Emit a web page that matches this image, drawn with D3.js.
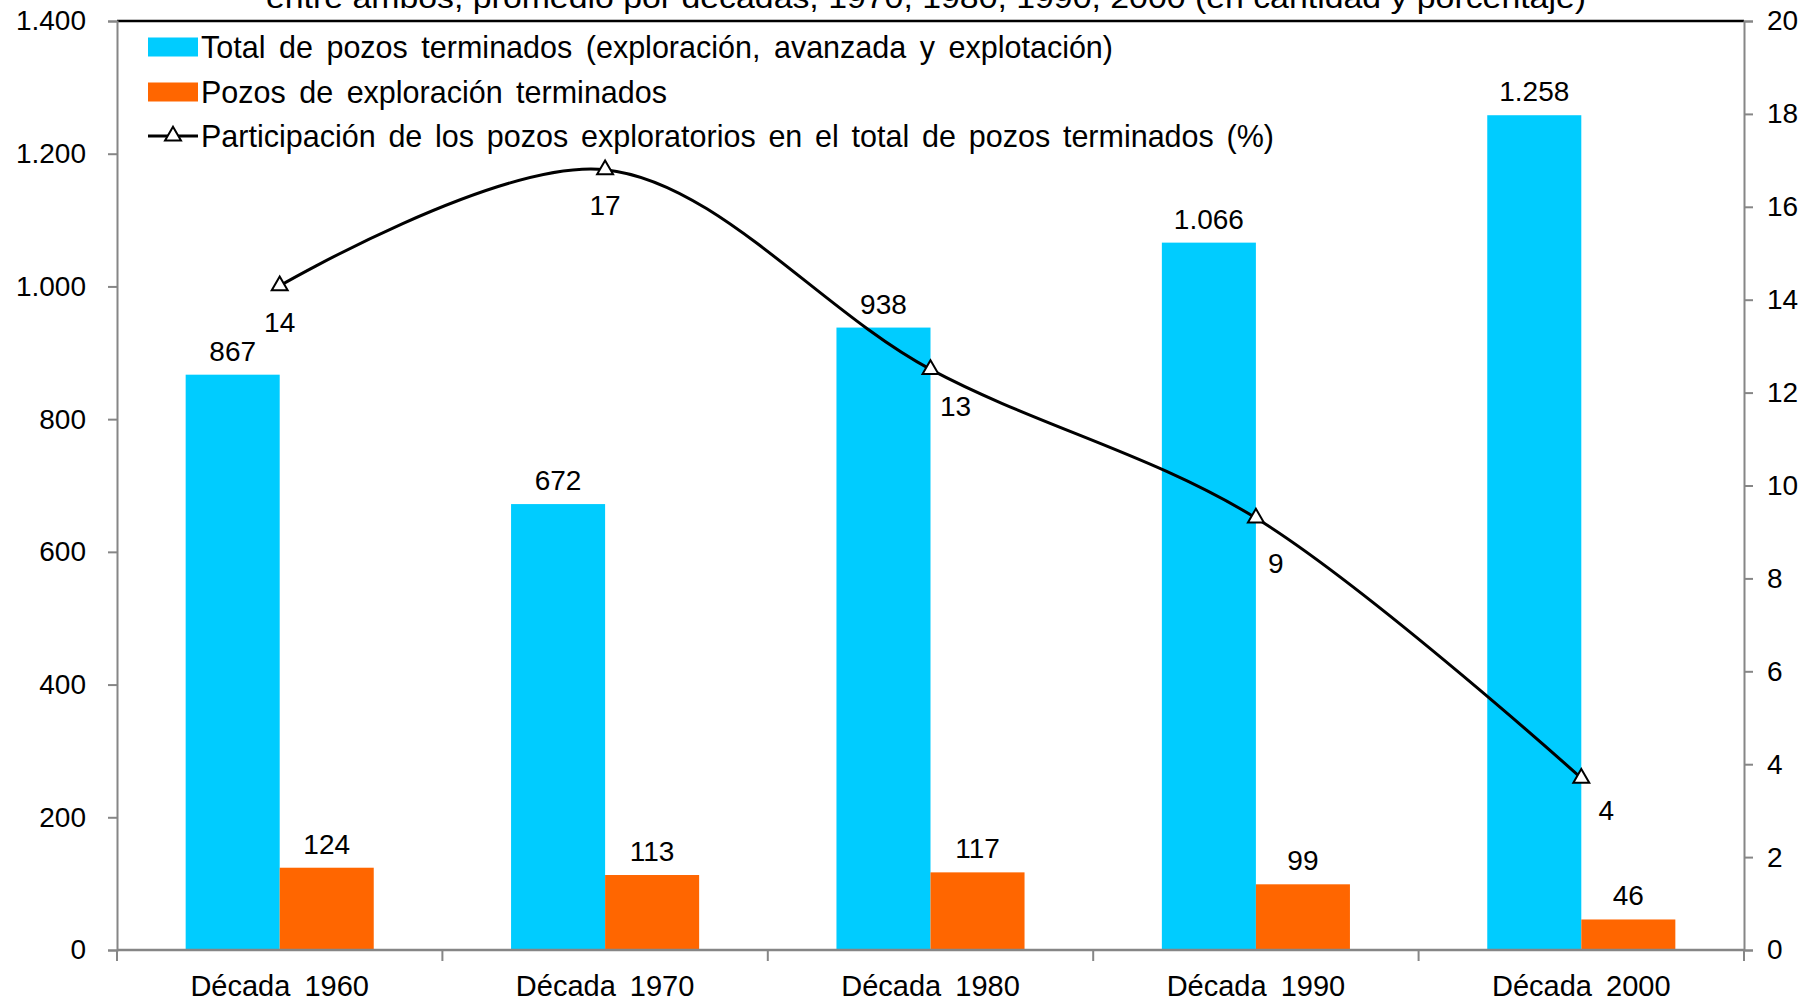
<!DOCTYPE html>
<html><head><meta charset="utf-8">
<script src="https://cdn.jsdelivr.net/npm/d3@7"></script>
<style>
html,body{margin:0;padding:0;background:#fff;}
svg{display:block;font-family:"Liberation Sans",Arial,sans-serif;}
</style></head>
<body>
<svg id="chart" width="1815" height="1003"></svg>
<script>
const titleText = "entre ambos, promedio por décadas, 1970, 1980, 1990, 2000 (en cantidad y porcentaje)";
const categories = ["Década 1960","Década 1970","Década 1980","Década 1990","Década 2000"];
const totalWells = [867, 672, 938, 1066, 1258];
const explorationWells = [124, 113, 117, 99, 46];
const sharePct = [14.3, 16.8, 12.5, 9.3, 3.7];
const shareLabels = ["14","17","13","9","4"];
const leftTicks = [0,200,400,600,800,1000,1200,1400];
const rightTicks = [0,2,4,6,8,10,12,14,16,18,20];
const legendLabels = [
  "Total de pozos terminados (exploración, avanzada y explotación)",
  "Pozos de exploración terminados",
  "Participación de los pozos exploratorios en el total de pozos terminados (%)"
];

const BLUE = "#00CCFF", ORANGE = "#FF6600", AXIS = "#868686";
const FS = 28;
const svg = d3.select("#chart");
const L = 117, R = 1744, T = 21, B = 950;

const locale = d3.formatLocale({decimal: ",", thousands: ".", grouping: [3], currency: ["$",""]});
const fmt = locale.format(",d");

const x = d3.scaleBand().domain(categories).range([L, R]).paddingInner(0).paddingOuter(0);
const yL = d3.scaleLinear().domain([0, 1400]).range([B, T]);
const yR = d3.scaleLinear().domain([0, 20]).range([B, T]);
const bw = x.bandwidth() * 0.289;
const cx = c => x(c) + x.bandwidth() / 2;

// title (partly cut off at top, as in the source)
svg.append("text").attr("x", 926).attr("y", 8).attr("text-anchor", "middle")
  .attr("font-size", 29).attr("textLength", 1320).attr("lengthAdjust", "spacingAndGlyphs")
  .text(titleText);

// top border line
svg.append("line").attr("x1", L).attr("x2", R).attr("y1", T).attr("y2", T)
  .attr("stroke", "#000").attr("stroke-width", 2.5);

// bars
const g = svg.append("g");
categories.forEach((c, i) => {
  g.append("rect").attr("x", cx(c) - bw).attr("y", yL(totalWells[i]))
    .attr("width", bw).attr("height", B - yL(totalWells[i])).attr("fill", BLUE);
  g.append("rect").attr("x", cx(c)).attr("y", yL(explorationWells[i]))
    .attr("width", bw).attr("height", B - yL(explorationWells[i])).attr("fill", ORANGE);
  g.append("text").attr("x", cx(c) - bw / 2).attr("y", yL(totalWells[i]) - 14)
    .attr("text-anchor", "middle").attr("font-size", FS).text(fmt(totalWells[i]));
  g.append("text").attr("x", cx(c) + bw / 2).attr("y", yL(explorationWells[i]) - 14)
    .attr("text-anchor", "middle").attr("font-size", FS).text(fmt(explorationWells[i]));
});

// axes
const axL = d3.axisLeft(yL).tickValues(leftTicks).tickSize(9).tickPadding(22).tickFormat(fmt);
const gl = svg.append("g").attr("transform", `translate(${L},0)`).call(axL);
const axR = d3.axisRight(yR).tickValues(rightTicks).tickSize(9).tickPadding(14).tickFormat(d3.format("d"));
const gr = svg.append("g").attr("transform", `translate(${R},0)`).call(axR);
[gl, gr].forEach(a => {
  a.select(".domain").attr("stroke", AXIS).attr("stroke-width", 2);
  a.selectAll(".tick line").attr("stroke", AXIS).attr("stroke-width", 2);
  a.selectAll("text").attr("font-size", FS).attr("fill", "#000")
    .attr("font-family", "Liberation Sans, Arial, sans-serif");
});

// x axis
svg.append("line").attr("x1", L).attr("x2", R).attr("y1", B).attr("y2", B)
  .attr("stroke", AXIS).attr("stroke-width", 2.5);
const bounds = categories.map(c => x(c)).concat([R]);
bounds.forEach(b => svg.append("line").attr("x1", b).attr("x2", b).attr("y1", B).attr("y2", B + 11)
  .attr("stroke", AXIS).attr("stroke-width", 2));
categories.forEach(c => svg.append("text").attr("x", cx(c)).attr("y", 996)
  .attr("text-anchor", "middle").attr("font-size", 29).attr("word-spacing", 6).text(c));

// line
const pts = categories.map((c, i) => [cx(c), yR(sharePct[i])]);
svg.append("path").attr("d", d3.line().curve(d3.curveCatmullRom.alpha(0.5))(pts))
  .attr("fill", "none").attr("stroke", "#000").attr("stroke-width", 3);
const tri = d3.symbol().type(d3.symbolTriangle).size(110);
pts.forEach(p => svg.append("path").attr("d", tri()).attr("transform", `translate(${p[0]},${p[1]})`)
  .attr("fill", "#fff").attr("stroke", "#000").attr("stroke-width", 2));
const labelOffsets = [[0, 36], [0, 36], [25, 37], [20, 45], [25, 32]];
pts.forEach((p, i) => svg.append("text").attr("x", p[0] + labelOffsets[i][0]).attr("y", p[1] + labelOffsets[i][1])
  .attr("text-anchor", "middle").attr("dy", "0.35em").attr("font-size", FS).text(shareLabels[i]));

// legend
const legY = [47, 92, 136];
const legTargets = [912, 466, 1073];
legendLabels.forEach((lab, i) => {
  const yy = legY[i];
  if (i < 2) {
    svg.append("rect").attr("x", 148).attr("y", yy - 9.5).attr("width", 50).attr("height", 19)
      .attr("fill", i === 0 ? BLUE : ORANGE);
  } else {
    svg.append("line").attr("x1", 148).attr("x2", 198).attr("y1", yy).attr("y2", yy)
      .attr("stroke", "#000").attr("stroke-width", 3);
    svg.append("path").attr("d", tri()).attr("transform", `translate(173,${yy})`)
      .attr("fill", "#fff").attr("stroke", "#000").attr("stroke-width", 2);
  }
  const t = svg.append("text").attr("x", 201).attr("y", yy).attr("dy", "0.35em")
    .attr("font-size", 30.5).text(lab);
  const w = t.node().getComputedTextLength();
  const nSpaces = (lab.match(/ /g) || []).length;
  if (nSpaces > 0) t.attr("word-spacing", Math.max(0, (legTargets[i] - w) / nSpaces));
});
</script>
</body></html>
